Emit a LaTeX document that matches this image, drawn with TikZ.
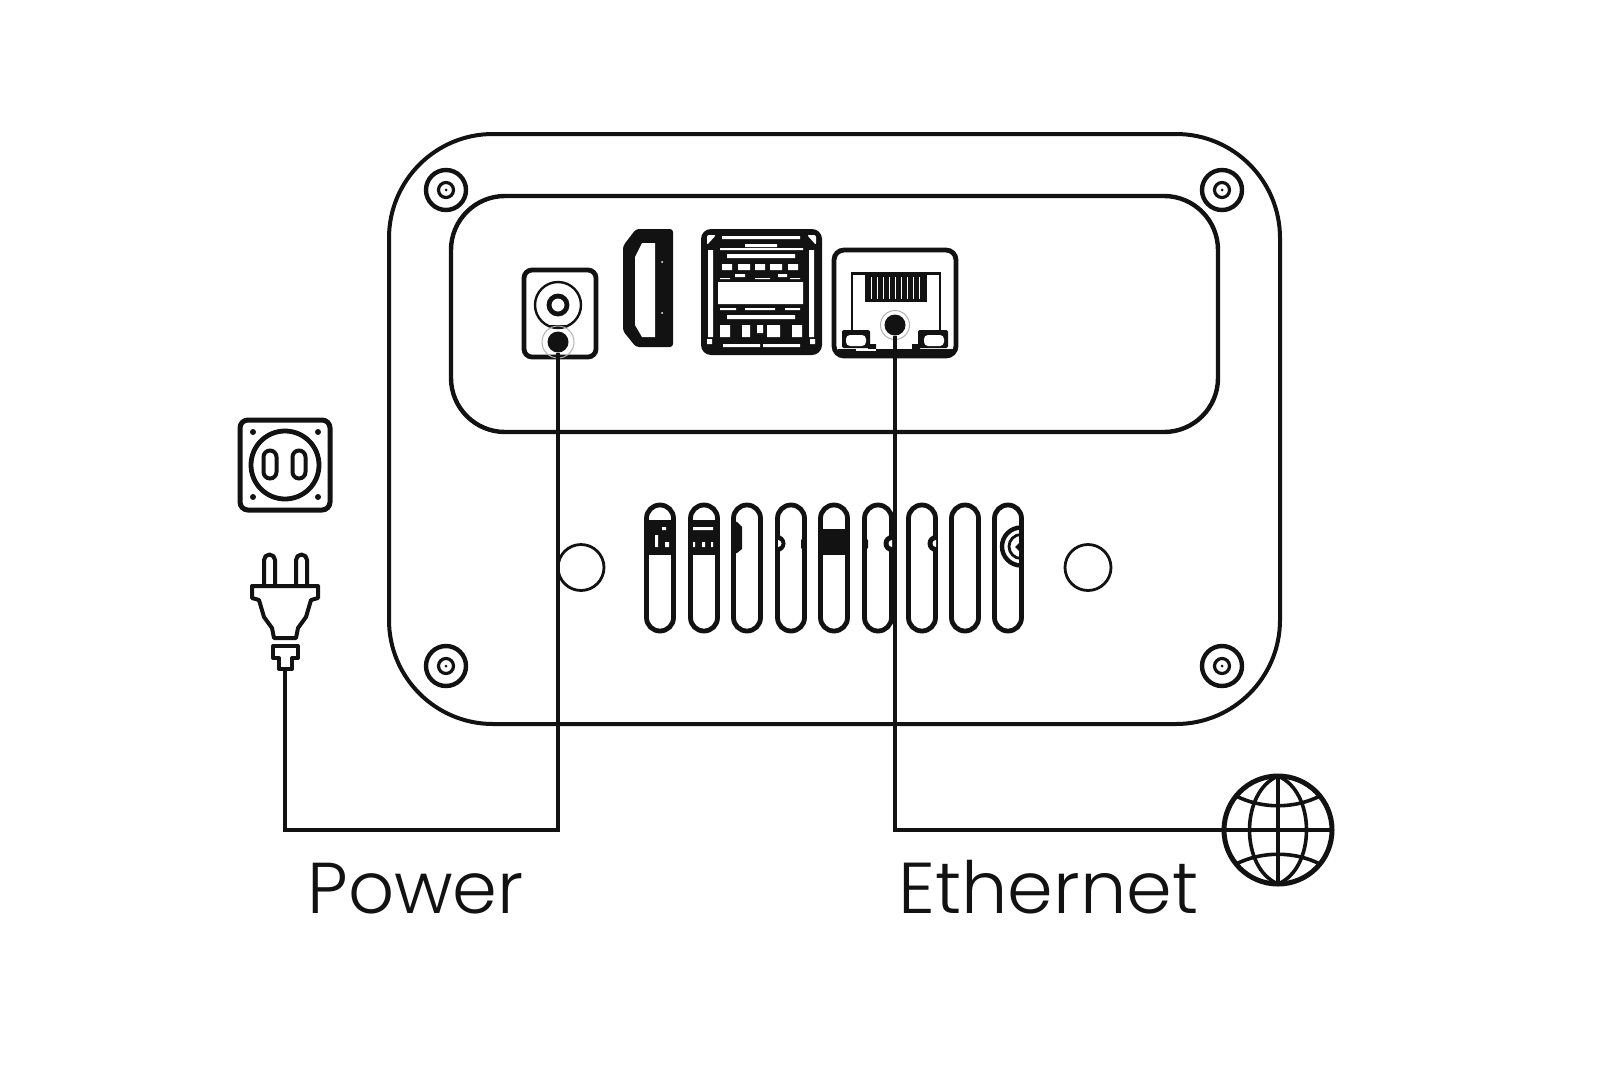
\documentclass[tikz,border=0pt]{standalone}
\usepackage{fontspec}
\setmainfont{Poppins Light}
\definecolor{ink}{HTML}{121212}
\tikzset{
  ln/.style={draw=ink,line width=2pt},
  thinln/.style={draw=ink,line width=1.4pt},
  wire/.style={draw=ink,line width=1.6pt},
  halo/.style={draw=gray!60,line width=.5pt},
  lbl/.style={text=ink,anchor=base west,inner sep=0pt,font=\fontsize{36}{36}\selectfont},
  portdot/.style={circle,fill=ink,inner sep=0pt,minimum size=10.5pt},
}
\newcommand{\screw}[2]{%
  \draw[ln,line width=2.2pt] (#1,#2) circle (20);
  \draw[thinln,line width=1.6pt] (#1,#2) circle (7.5);
  \fill[ink] (#1,#2) circle (1.5);
}
\newcommand{\slotpath}[1]{(#1-13.5,505) rectangle (#1+13.5,631)}
\begin{document}
\begin{tikzpicture}[x=0.5pt,y=-0.5pt]
\useasboundingbox (0,0) rectangle (1612,1082);
% housing
\draw[ln,rounded corners=52pt] (389,134) rectangle (1280,724);
\draw[ln,line width=2.2pt,rounded corners=27pt] (451,196) rectangle (1218,432);
\screw{446}{190}\screw{1222}{190}\screw{446}{666}\screw{1222}{666}
\draw[thinln] (581,567.5) circle (23);
\draw[thinln] (1088,567.5) circle (23);
% vents: contents clipped to each slot
\foreach \v in {660,704,747,791,834,878,922,965,1008}{
  \draw[ln,line width=2.4pt,rounded corners=6.7pt] \slotpath{\v};
}
\begin{scope}\clip[rounded corners=6.7pt] \slotpath{660};
  \fill[ink] (645,520) rectangle (675,555);
  \fill[white] (655,535) rectangle (658,547) (665,542) rectangle (669,547) (662,527) rectangle (666,530);
\end{scope}
\begin{scope}\clip[rounded corners=6.7pt] \slotpath{704};
  \fill[ink] (689,520) rectangle (719,555);
  \fill[white] (693,527) rectangle (713,530) (693,542) rectangle (695,547) (702,542) rectangle (705,547) (711,542) rectangle (713,547);
\end{scope}
\fill[ink] (733,520) -- (737,522) -- (742,527) -- (742,549) -- (737,553) -- (733,554) -- cycle;
% slot 4
\fill[ink] (777,535) arc (-90:90:8.5) -- cycle;
\fill[white] (778,540) arc (-90:90:3.5) -- cycle;
\fill[ink] (806,536) -- (801,540) -- (801,548) -- (806,552) -- cycle;
% slot 5
\fill[ink] (820,529) rectangle (848,555);
% slot 6
\fill[ink] (863,536) -- (868,540) -- (868,548) -- (863,552) -- cycle;
\fill[ink] (892,535) arc (270:90:8.5) -- cycle;
\fill[white] (892,540) arc (270:90:3.5) -- cycle;
% slot 7
\fill[ink] (936,535) arc (270:90:8.5) -- cycle;
\fill[white] (936,540) arc (270:90:3.5) -- cycle;
% slot 9
\begin{scope}\clip[rounded corners=6.7pt] \slotpath{1008};
  \draw[ln,line width=2.2pt] (1021,546.5) circle (19);
  \draw[thinln] (1021,546.5) circle (12);
  \fill[ink] (1023,539) -- (1015,547) -- (1023,555) -- cycle;
\end{scope}
% power port
\draw[ln,line width=2.4pt,rounded corners=4pt] (524,270) rectangle (596,357);
\draw[thinln,line width=1.2pt] (558,305) circle (23);
\draw[ln,line width=2.4pt] (558,305) circle (9);
\draw[thinln,line width=.8pt] (548,326) -- (568,326);
\draw[halo] (558,342) circle (16);
\node[portdot] (pwrdot) at (558,342) {};
% hdmi
\fill[ink,rounded corners=1.5pt] (636,229) -- (673,229) -- (673,347) -- (636,347) -- (623,331) -- (623,246) -- cycle;
\fill[white] (642,243) -- (655,243) -- (655,337) -- (642,337) -- (635,325) -- (635,257) -- cycle;
\fill[white] (662,262) circle (1) (662,313) circle (1);
% usb
\fill[ink,rounded corners=5pt] (701,229) rectangle (822,355);
\fill[white,rounded corners=1pt] (707,235) -- (716,235) -- (707,245) -- cycle (816,235) -- (807,235) -- (816,245) -- cycle;
\fill[white] (708,250) rectangle (713,337) (809,250) rectangle (814,337)
  (722,236) rectangle (800,239) (745,244) rectangle (777,247)
  (720,248) rectangle (803,250)
  (727,254) rectangle (795,258)
  (722,264) rectangle (732,270) (738,264) rectangle (750,270) (755,264) rectangle (765,270) (770,264) rectangle (782,270) (788,264) rectangle (798,270)
  (735,274) rectangle (745,277) (778,274) rectangle (787,277)
  (718,282) rectangle (803,304)
  (727,315) rectangle (795,319)
  (720,325) rectangle (730,337) (742,325) rectangle (750,337) (757,325) rectangle (763,333) (767,325) rectangle (780,337) (792,325) rectangle (802,337)
  (723,344) rectangle (760,347) (763,344) rectangle (800,347)
  (707,339) rectangle (712,344) (810,339) rectangle (815,344);
\fill[white] (720,278) rectangle (730,279) (755,278) rectangle (770,279) (790,278) rectangle (800,279);
\fill[white] (720,308) rectangle (736,310) (745,308) rectangle (775,310) (785,308) rectangle (800,310);
% ethernet
\draw[ln,line width=2.4pt,rounded corners=5pt] (834,250) rectangle (956,356);
\draw[thinln] (852,331) -- (852,273.5) -- (940,273.5) -- (940,331);
\fill[ink] (865,275) rectangle (927,302);
\foreach \p in {871,877,...,923}{\fill[white] (\p,277) rectangle (\p+1.2,299);}
\fill[ink,rounded corners=1pt] (842,330) rectangle (870,348) (918,330) rectangle (948,348);
\fill[ink] (838,349) rectangle (953,356);
\fill[ink] (868,344) rectangle (876,350) (912,344) rectangle (920,350);
\fill[white,rounded corners=2pt] (846,335) rectangle (866,346) (924,335) rectangle (944,346);
\fill[white] (856,349) rectangle (876,350.5);
\draw[halo] (895,325) circle (14.5);
\node[portdot] (ethdot) at (895,325) {};
% socket
\draw[ln,line width=2.5pt,rounded corners=4pt] (240,420) rectangle (330,510);
\draw[ln,line width=2.4pt] (285,465) circle (34);
\draw[ln] (263.5,457) arc (180:360:6.5) -- (276.5,472) arc (0:180:6.5) -- cycle;
\draw[ln] (292.5,457) arc (180:360:6.5) -- (305.5,472) arc (0:180:6.5) -- cycle;
\foreach \a/\b in {253/432,318/432,253/497,318/497}{\fill[ink] (\a,\b) circle (3);}
% plug
\draw[ln,line join=round] (264,586) -- (264,560) arc (180:360:5.5) -- (275,586);
\draw[ln,line join=round] (296,586) -- (296,560) arc (180:360:5.5) -- (307,586);
\draw[ln,line join=round] (252,586) -- (318,586) -- (318,598) -- (311,600) -- (306,617) -- (298,628) -- (296,638) -- (274,638) -- (272,628) -- (264,617) -- (259,600) -- (252,598) -- cycle;
\draw[ln,line join=round] (273,646) -- (298,646) -- (298,658) -- (292,658) -- (292,669) -- (279,669) -- (279,658) -- (273,658) -- cycle;
\coordinate (plugtail) at (285,669);
\coordinate (pwrcorner) at (558,830);
\coordinate (plugcorner) at (285,830);
% globe
\node[circle,minimum size=55pt,inner sep=0pt] (globe) at (1278,830) {};
\draw[ln,line width=2.5pt] (1278,830) circle (54);
\draw[ln] (1278,775) -- (1278,885);
\draw[ln,line width=1.8pt] (1278,776) .. controls (1240,792) and (1240,868) .. (1278,884);
\draw[ln,line width=1.8pt] (1278,776) .. controls (1316,792) and (1316,868) .. (1278,884);
\draw[ln,line width=1.8pt] (1236,796) .. controls (1262,809) and (1294,809) .. (1320,796);
\draw[ln,line width=1.8pt] (1236,864) .. controls (1262,851) and (1294,851) .. (1320,864);
\draw[ln,line width=1.8pt] (1278,830) -- (globe.east);
% connectors
\draw[wire] (plugtail) -- (plugcorner) -- (pwrcorner) -- (pwrdot);
\draw[wire] (ethdot) |- (globe.center);
% labels
\node[lbl] (power) at (307,913) {Power};
\node[lbl,xscale=1.02] (ethernet) at (898,913) {Ethernet};
\end{tikzpicture}
\end{document}
